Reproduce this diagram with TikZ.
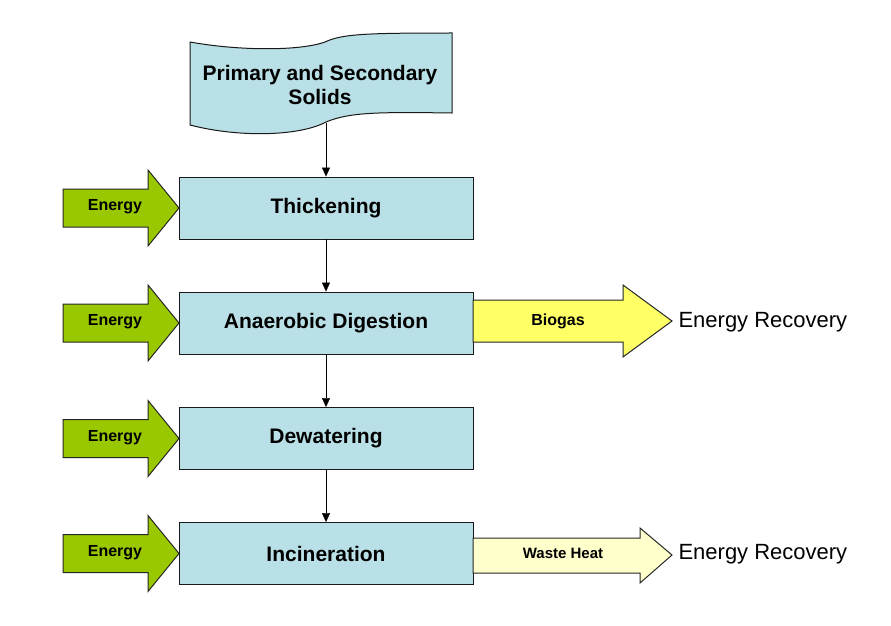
\documentclass[tikz,border=0pt]{standalone}
\usepackage{fontspec}
\setmainfont{Liberation Sans}
\usetikzlibrary{positioning,arrows.meta}

\definecolor{stageblue}{RGB}{185,224,230}
\definecolor{energygreen}{RGB}{153,200,0}
\definecolor{biogasyellow}{RGB}{255,255,102}
\definecolor{heatyellow}{RGB}{255,255,204}

\tikzset{
  stage/.style={draw=black!90, line width=0.9pt, fill=stageblue, minimum width=294pt, minimum height=62pt,
    font=\bfseries\fontsize{21}{25}\selectfont},
  flow/.style={draw=black, -{Triangle[length=9pt,width=8pt]}},
  blockarrow/.style={draw=black!85, line width=1pt},
  arrowtext/.style={font=\bfseries\fontsize{16}{18}\selectfont},
  outtext/.style={anchor=west, font=\fontsize{22}{26}\selectfont}
}

\begin{document}
\begin{tikzpicture}[x=1pt,y=1pt]
  \useasboundingbox (0,0) rectangle (891,-626);

  % input document
  \draw[draw=black!90, line width=1pt, fill=stageblue]
    (190,-42) .. controls (240,-51) and (300,-51) .. (325,-42)
    .. controls (342,-34) and (365,-33) .. (452,-33)
    -- (452,-113)
    .. controls (380,-112) and (350,-112) .. (326,-122)
    .. controls (300,-136) and (240,-138) .. (190,-125) -- cycle;
  \node[font=\bfseries\fontsize{21}{24}\selectfont, align=center] (solids) at (320,-85)
    {Primary and Secondary\\Solids};
  \coordinate (solidsbot) at (326,-123);

  % process stages
  \node[stage] (thick)   at (326,-208)   {Thickening};
  \node[stage] (digest)  at (326,-323)   {Anaerobic Digestion};
  \node[stage] (dewater) at (326,-438.5) {Dewatering};
  \node[stage] (incin)   at (326,-553.5) {Incineration};

  \draw[flow] (solidsbot) -- (thick);
  \draw[flow] (thick) -- (digest);
  \draw[flow] (digest) -- (dewater);
  \draw[flow] (dewater) -- (incin);

  % energy inputs
  \foreach \y/\n in {-208/thick, -323/digest, -438.5/dewater, -553.5/incin} {
    \draw[blockarrow, fill=energygreen]
      (63,\y+19) -- (148,\y+19) -- (148,\y+38) -- (179,\y) -- (148,\y-38)
      -- (148,\y-19) -- (63,\y-19) -- cycle;
    \node[arrowtext] (energy-\n) at (115,\y+1) {Energy};
  }

  % outputs
  \draw[blockarrow, fill=biogasyellow]
    (473,-300) -- (623,-300) -- (623,-285) -- (672,-321) -- (623,-357)
    -- (623,-342) -- (473,-342) -- cycle;
  \node[arrowtext] (biogas) at (558,-321) {Biogas};
  \node[outtext] (recov1) at (675,-322) {Energy Recovery};

  \draw[blockarrow, fill=heatyellow]
    (473,-538) -- (640,-538) -- (640,-528) -- (672,-555) -- (640,-583)
    -- (640,-573) -- (473,-573) -- cycle;
  \node[arrowtext, font=\bfseries\fontsize{15}{17}\selectfont] (waste) at (563,-553) {Waste Heat};
  \node[outtext] (recov2) at (675,-554) {Energy Recovery};
\end{tikzpicture}
\end{document}
